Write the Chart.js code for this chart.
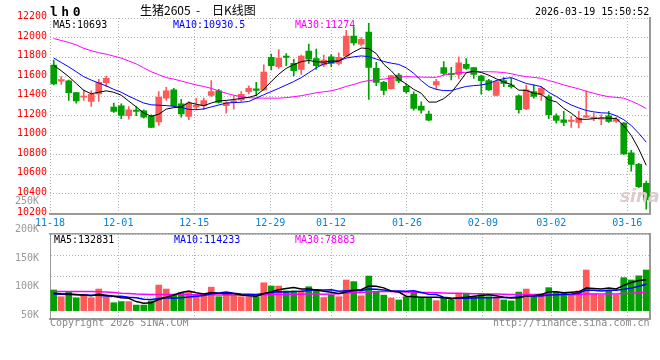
<!DOCTYPE html>
<html>
<head>
<meta charset="utf-8">
<title>生猪2605 日K线图</title>
<script src="https://cdn.jsdelivr.net/npm/chart.js@4/dist/chart.umd.min.js"></script>
<style>
  html, body { margin:0; padding:0; background:#fff; }
  #wrap { position:relative; width:660px; height:360px; overflow:hidden; background:#fff; }
  canvas { position:absolute; left:0; }
  #pc { top:0; }
  #vc { top:185px; }
  .t { position:absolute; white-space:pre; font-family:"DejaVu Sans Mono", monospace; font-size:10px; line-height:10px; }
  .cjk { font-family:"Noto Sans CJK SC", sans-serif; font-size:12px; line-height:16px; color:#000; }
</style>
</head>
<body>
<div id="wrap">
  <canvas id="pc" width="660" height="235" style="width:660px;height:235px"></canvas>
  <canvas id="vc" width="660" height="175" style="width:660px;height:175px"></canvas>

  <div class="t" style="left:50px;top:5px;font-size:13px;line-height:13px;font-weight:bold;letter-spacing:3.5px;color:#000">lh0</div>
  <div class="t cjk" style="left:140px;top:2px">生猪2605</div>
  <div class="t cjk" style="left:196px;top:2px">-</div>
  <div class="t cjk" style="left:212px;top:2px">日K线图</div>
  <div class="t" style="left:535px;top:7px;color:#000">2026-03-19 15:50:52</div>

  <div class="t" id="pm5"  style="left:53px;top:19.5px;color:#000"></div>
  <div class="t" id="pm10" style="left:173px;top:19.5px;color:#0000ff"></div>
  <div class="t" id="pm30" style="left:295px;top:19.5px;color:#ff00ff"></div>

  <div class="t" id="vm5"  style="left:54px;top:235px;color:#000"></div>
  <div class="t" id="vm10" style="left:174px;top:235px;color:#0000ff"></div>
  <div class="t" id="vm30" style="left:295px;top:235px;color:#ff00ff"></div>

  <div class="t" style="left:620px;top:187px;font-family:'DejaVu Sans',sans-serif;font-size:17px;line-height:18px;font-weight:bold;font-style:italic;color:#dccccc">sina</div>

  <div class="t" style="left:50px;top:318px;color:#888">Copyright 2026 SINA.COM</div>
  <div class="t" style="left:493px;top:318px;color:#888">http://finance.sina.com.cn</div>
</div>

<script>
// ---------------- data ----------------
const categories = [
  "11-18","11-19","11-20","11-21","11-24","11-25","11-26","11-27","11-28",
  "12-01","12-02","12-03","12-04","12-05","12-08","12-09","12-10","12-11","12-12",
  "12-15","12-16","12-17","12-18","12-19","12-22","12-23","12-24","12-25","12-26",
  "12-29","12-30","12-31",
  "01-05","01-06","01-07","01-08","01-09","01-12","01-13","01-14","01-15","01-16",
  "01-19","01-20","01-21","01-22","01-23","01-26","01-27","01-28","01-29","01-30",
  "02-02","02-03","02-04","02-05","02-06","02-09","02-10","02-11","02-12","02-13",
  "02-24","02-25","02-26","02-27",
  "03-02","03-03","03-04","03-05","03-06","03-09","03-10","03-11","03-12","03-13",
  "03-16","03-17","03-18","03-19"
];
const dateTickLabels = ["11-18","12-01","12-15","12-29","01-12","01-26","02-09","03-02","03-16"];
const priceTicks = [10200,10400,10600,10800,11000,11200,11400,11600,11800,12000,12200];
const volumeTickLabels = [50000,100000,150000,200000,250000];

const opens = [
  11719,11555,11556,11437,11390,11346,11424,11539,11288,11302,
  11200,11258,11251,11193,11136,11380,11464,11322,11193,11288,
  11302,11407,11454,11302,11336,11363,11447,11475,11464,11797,
  11702,11810,11736,11675,11861,11786,11719,11803,11736,11810,
  12014,11932,12057,11685,11542,11478,11617,11502,11420,11298,
  11217,11515,11692,11630,11624,11725,11692,11607,11559,11407,
  11559,11515,11403,11271,11447,11420,11397,11200,11159,11142,
  11132,11186,11173,11166,11200,11142,11125,10820,10702,10508
];
const highs = [
  11770,11600,11566,11440,11465,11454,11573,11607,11329,11322,
  11295,11295,11261,11210,11447,11492,11481,11369,11346,11380,
  11380,11559,11471,11346,11403,11447,11505,11542,11722,11831,
  11878,11837,11776,11820,11932,11881,11820,11827,11844,12075,
  12110,12000,12146,11746,11553,11614,11634,11525,11444,11342,
  11248,11573,11753,11695,11803,11786,11695,11617,11573,11559,
  11590,11583,11414,11515,11515,11498,11414,11220,11244,11193,
  11244,11454,11227,11210,11244,11186,11132,10847,10712,10532
];
const lows = [
  11515,11520,11356,11329,11356,11295,11346,11498,11234,11170,
  11166,11200,11176,11078,11102,11356,11295,11186,11159,11261,
  11261,11397,11329,11227,11268,11346,11424,11403,11458,11668,
  11685,11712,11607,11624,11736,11675,11702,11702,11719,11810,
  11922,11915,11366,11508,11414,11471,11539,11430,11258,11227,
  11146,11471,11617,11566,11583,11675,11583,11420,11458,11403,
  11498,11481,11227,11261,11380,11356,11169,11125,11098,11081,
  11075,11180,11149,11108,11132,11132,10803,10634,10464,10244
];
const closes = [
  11525,11570,11437,11352,11400,11420,11542,11583,11244,11203,
  11261,11244,11186,11081,11390,11454,11302,11220,11329,11308,
  11356,11447,11336,11336,11353,11420,11481,11458,11647,11712,
  11790,11797,11661,11810,11780,11712,11770,11736,11797,12014,
  11946,11983,11695,11542,11458,11610,11556,11447,11275,11258,
  11156,11549,11634,11620,11742,11685,11624,11559,11464,11549,
  11532,11498,11261,11464,11397,11481,11210,11153,11132,11156,
  11173,11200,11186,11176,11142,11166,10810,10702,10474,10339
];
const ma5 = [
  11715,11660,11600,11530,11460,11425,11440,11455,11440,11410,
  11350,11290,11228,11195,11215,11268,11283,11290,11336,11318,
  11303,11330,11352,11357,11366,11378,11388,11410,11470,11550,
  11625,11685,11722,11754,11766,11752,11748,11760,11760,11806,
  11853,11893,11887,11836,11727,11660,11575,11525,11470,11430,
  11340,11340,11375,11437,11535,11640,11655,11643,11615,11578,
  11545,11520,11462,11460,11430,11420,11363,11342,11276,11226,
  11166,11163,11170,11178,11175,11172,11096,10999,10860,10693
];
const ma10 = [
  11790,11745,11700,11650,11600,11565,11535,11505,11470,11440,
  11400,11365,11330,11312,11308,11304,11296,11285,11265,11262,
  11270,11290,11310,11330,11335,11338,11346,11380,11415,11447,
  11480,11515,11550,11590,11640,11690,11730,11745,11760,11790,
  11803,11812,11805,11780,11755,11738,11725,11690,11634,11560,
  11498,11470,11457,11457,11480,11500,11508,11515,11530,11560,
  11580,11590,11560,11530,11515,11498,11440,11397,11350,11310,
  11280,11254,11240,11230,11227,11200,11160,11100,11020,10930
];
const ma30 = [
  11990,11970,11950,11925,11890,11865,11845,11830,11810,11790,
  11760,11730,11690,11650,11620,11590,11575,11555,11535,11515,
  11500,11480,11455,11430,11410,11395,11385,11380,11380,11380,
  11380,11385,11395,11405,11420,11435,11445,11455,11475,11500,
  11520,11545,11560,11568,11575,11585,11595,11600,11598,11595,
  11594,11593,11615,11630,11640,11645,11650,11651,11650,11648,
  11642,11630,11612,11600,11592,11583,11560,11540,11515,11495,
  11475,11450,11430,11410,11395,11388,11380,11350,11315,11274
];
const volumes = [
  89000,60000,82000,55000,67000,55000,93000,60000,34000,39000,
  39000,24000,24000,42000,110000,93000,67000,77000,80000,67000,
  67000,101000,60000,75000,67000,60000,60000,60000,120000,106000,
  106000,85000,85000,85000,103000,85000,56000,67000,60000,132000,
  125000,64000,149000,84000,67000,54000,46000,60000,75000,53000,
  57000,43000,53000,46000,75000,75000,60000,70000,60000,53000,
  46000,42000,80000,93000,60000,72000,99000,79000,77000,67000,
  85000,175000,72000,67000,88000,67000,142000,132000,150000,175000
];
const volMa5 = [
  75000,73000,72000,70000,67000,64000,70000,66000,62000,56000,
  53000,39000,32000,34000,48000,58000,67000,78000,85000,77000,
  72000,78000,75000,74000,74000,67000,64000,62000,73000,81000,
  90000,95000,100000,93000,93000,89000,83000,79000,74000,80000,
  88000,90000,106000,105000,98000,84000,80000,62000,60000,58000,
  58000,58000,56000,50000,55000,58000,62000,65000,68000,64000,
  58000,54000,56000,63000,64000,69000,81000,81000,77000,79000,
  81000,97000,95000,93000,97000,93000,109000,121000,130000,133000
];
const volMa10 = [
  72000,71000,70000,68000,67000,66000,66000,63000,62000,62000,
  58000,55000,49000,48000,52000,56000,53000,55000,59000,62000,
  65000,73000,76000,80000,75000,72000,71000,70000,74000,78000,
  81000,80000,82000,83000,87000,90000,89000,90000,84000,86000,
  88000,86000,93000,92000,89000,86000,85000,84000,86000,78000,
  71000,69000,58000,54000,53000,53000,54000,55000,56000,57000,
  57000,57000,59000,63000,63000,63000,67000,68000,70000,72000,
  75000,89000,88000,85000,88000,88000,92000,97000,105000,114000
];
const volMa30 = [
  82000,82000,82000,82000,82000,82000,81000,80000,78000,75000,
  74000,72000,71000,70000,70000,70000,69000,69000,68000,68000,
  68000,68000,67000,67000,67000,67000,67000,67000,68000,69000,
  70000,70000,71000,71000,72000,72000,71000,72000,73000,76000,
  78000,78000,80000,81000,82000,82000,80000,80000,79000,78000,
  78000,77000,76000,75000,75000,74000,73000,73000,72000,72000,
  71000,70000,70000,70000,69000,69000,69000,69000,68000,68000,
  69000,72000,72000,72000,72000,72000,74000,75000,77000,79000
];
const priceLegend = { ma5: "10693", ma10: "10930.5", ma30: "11274" };
const volumeLegend = { ma5: "132831", ma10: "114233", ma30: "78883" };

// ---------------- styling ----------------
const RED = '#ff5a5a', GREEN = '#00a000';
const GRID = '#b4b4b4', FRAME = '#999999';
const MONO = { family: 'DejaVu Sans Mono', size: 10 };
const candleColors = closes.map((c, i) => c >= opens[i] ? RED : GREEN);
const dateTickIdx = dateTickLabels.map(l => categories.indexOf(l));
const N = categories.length;

document.getElementById('pm5').textContent = 'MA5:' + priceLegend.ma5;
document.getElementById('pm10').textContent = 'MA10:' + priceLegend.ma10;
document.getElementById('pm30').textContent = 'MA30:' + priceLegend.ma30;
document.getElementById('vm5').textContent = 'MA5:' + volumeLegend.ma5;
document.getElementById('vm10').textContent = 'MA10:' + volumeLegend.ma10;
document.getElementById('vm30').textContent = 'MA30:' + volumeLegend.ma30;

const pts = arr => arr.map((v, i) => ({ x: i + 0.5, y: v }));
const lineDs = (label, arr, color, w, yId) => ({
  type: 'line', label, data: pts(arr), borderColor: color, borderWidth: w,
  pointRadius: 0, tension: 0, fill: false, xAxisID: 'x', yAxisID: yId, order: 0
});
const slotAxis = { type: 'linear', min: 0, max: N, offset: false, display: false, grid: { offset: false } };

// ---------------- price chart ----------------
new Chart(document.getElementById('pc'), {
  data: {
    datasets: [
      lineDs('MA5', ma5, '#000000', 1, 'y'),
      lineDs('MA10', ma10, '#0000ff', 1, 'y'),
      lineDs('MA30', ma30, '#ff00ff', 1, 'y'),
      {
        type: 'bar', label: 'wick',
        data: lows.map((l, i) => ({ x: i + 0.5, y: [l, highs[i]] })),
        backgroundColor: candleColors, barThickness: 1, grouped: false,
        xAxisID: 'x', yAxisID: 'y', order: 2
      },
      {
        type: 'bar', label: 'body',
        data: opens.map((o, i) => ({ x: i + 0.5, y: [o, closes[i]] })),
        backgroundColor: candleColors, barThickness: 6, grouped: false, minBarLength: 1,
        xAxisID: 'x', yAxisID: 'y', order: 1
      }
    ]
  },
  options: {
    responsive: false, animation: false, events: [],
    layout: { padding: { top: 18, left: 0, right: 0, bottom: 0 } },
    plugins: { legend: { display: false }, tooltip: { enabled: false } },
    scales: {
      x: slotAxis,
      xd: {
        type: 'linear', position: 'bottom', min: 0, max: N - 1, offset: false,
        afterBuildTicks: s => { s.ticks = dateTickIdx.map(v => ({ value: v })); },
        afterFit: s => { s.height = 21.5; },
        ticks: { autoSkip: false, maxRotation: 0, padding: 4, color: '#0a82d2', font: MONO,
                 callback: v => categories[v] },
        grid: { color: GRID, drawTicks: false, lineWidth: 1 },
        border: { display: true, color: FRAME, width: 2, dash: [1, 2] }
      },
      y: {
        type: 'linear', position: 'left', min: priceTicks[0], max: priceTicks[priceTicks.length - 1],
        afterBuildTicks: s => { s.ticks = priceTicks.map(v => ({ value: v })); },
        afterFit: s => { s.width = 50; },
        ticks: { autoSkip: false, color: '#ff0000', padding: 3, font: MONO, labelOffset: -1.5,
                 callback: v => String(v) },
        grid: { color: GRID, drawTicks: false, lineWidth: 1 },
        border: { display: false, dash: [1, 2] }
      },
      yr: {
        type: 'linear', position: 'right', min: 0, max: 1,
        afterFit: s => { s.width = 10; },
        ticks: { display: false }, grid: { display: false },
        border: { display: true, color: FRAME, width: 2 }
      }
    }
  }
});

// ---------------- volume chart ----------------
new Chart(document.getElementById('vc'), {
  data: {
    datasets: [
      lineDs('MA5', volMa5, '#000000', 1.5, 'yv'),
      lineDs('MA10', volMa10, '#0000ff', 1.5, 'yv'),
      lineDs('MA30', volMa30, '#ff00ff', 1.5, 'yv'),
      {
        type: 'bar', label: 'volume',
        data: volumes.map((v, i) => ({ x: i + 0.5, y: v })),
        backgroundColor: candleColors, barThickness: 6, grouped: false,
        xAxisID: 'x', yAxisID: 'yv', order: 1
      }
    ]
  },
  options: {
    responsive: false, animation: false, events: [],
    layout: { padding: { top: 49, left: 0, right: 0, bottom: 41 } },
    plugins: { legend: { display: false }, tooltip: { enabled: false } },
    scales: {
      x: slotAxis,
      xd: {
        type: 'linear', position: 'bottom', min: 0, max: N - 1, offset: false,
        afterBuildTicks: s => { s.ticks = dateTickIdx.map(v => ({ value: v })); },
        afterFit: s => { s.height = 0; },
        ticks: { display: false },
        grid: { color: GRID, drawTicks: false, lineWidth: 1 },
        border: { display: true, color: FRAME, width: 2, dash: [1, 2] }
      },
      xt: {
        type: 'linear', position: 'top', min: 0, max: 1,
        afterFit: s => { s.height = 0; },
        ticks: { display: false }, grid: { display: false },
        border: { display: true, color: FRAME, width: 1.5 }
      },
      yv: {
        type: 'linear', position: 'left', min: -36000, max: 330000, weight: 0,
        afterFit: s => { s.width = 0; },
        ticks: { display: false, count: 5 },
        grid: { color: GRID, drawTicks: false, lineWidth: 1 },
        border: { display: true, color: FRAME, width: 1, dash: [1, 2] }
      },
      yl: {
        type: 'linear', position: 'left', min: 43700, max: 192300, weight: 1,
        afterBuildTicks: s => { s.ticks = volumeTickLabels.map(v => ({ value: v })); },
        afterFit: s => { s.width = 50; },
        ticks: { autoSkip: false, color: '#999999', padding: 3, font: MONO,
                 callback: v => (v / 1000) + 'K' },
        grid: { display: false }, border: { display: false }
      },
      yr: {
        type: 'linear', position: 'right', min: 0, max: 1,
        afterFit: s => { s.width = 10; },
        ticks: { display: false }, grid: { display: false },
        border: { display: true, color: FRAME, width: 2 }
      }
    }
  }
});
</script>
</body>
</html>
